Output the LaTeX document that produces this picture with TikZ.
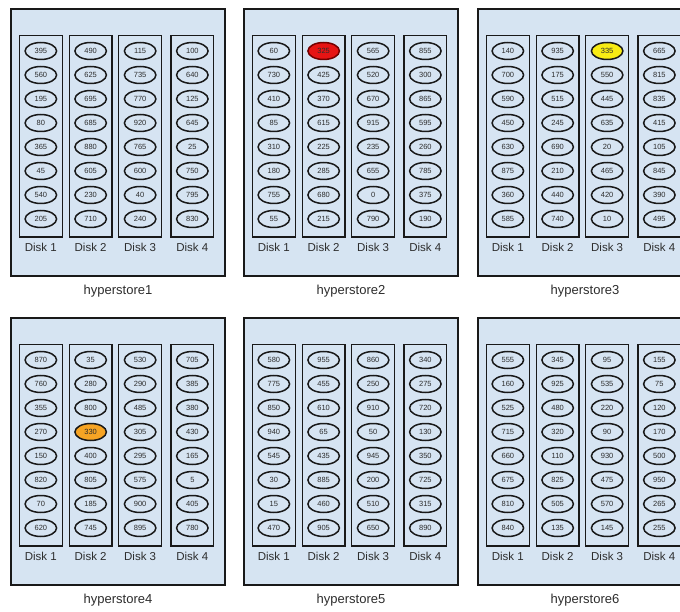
\documentclass[tikz,border=0pt]{standalone}
\usepackage{fontspec}
\setmainfont{Liberation Sans}
\usetikzlibrary{shapes.geometric}
\definecolor{bgblue}{RGB}{214,228,242}
\definecolor{inkc}{RGB}{25,25,25}
\definecolor{txtc}{RGB}{45,45,45}
\definecolor{hotred}{RGB}{230,20,20}
\definecolor{hotyel}{RGB}{248,236,20}
\definecolor{hotora}{RGB}{246,164,36}
\tikzset{
  hbox/.style={draw=inkc, line width=1.6pt, fill=bgblue, minimum width=214pt, minimum height=267pt, inner sep=0pt},
  diskbox/.style={draw=inkc, line width=1.3pt, minimum width=42.7pt, minimum height=201.3pt, inner sep=0pt},
  cell/.style={ellipse, draw=inkc, line width=1.5pt, minimum width=31.5pt, minimum height=17pt, inner sep=0pt, text=txtc, font=\fontsize{7.5}{8}\selectfont},
  dlabel/.style={text=txtc, font=\fontsize{11.5}{13}\selectfont, inner sep=0pt},
  hlabel/.style={text=txtc, font=\fontsize{13}{15}\selectfont, inner sep=0pt},
  hl-2-2-1/.style={fill=hotred, draw=red!45!black},
  hl-3-3-1/.style={fill=hotyel},
  hl-4-2-4/.style={fill=hotora},
}
\newcommand\hdisk[5]{% #1 store, #2 disk, #3 x left, #4 y top, #5 values
  \node[diskbox] (h#1d#2) at (#3+21.35, #4+127.35) {};
  \node[dlabel] (h#1d#2lab) at (#3+21.35, #4+238.6) {Disk #2};
  \foreach \v [count=\i] in {#5} {
    \node[cell, hl-#1-#2-\i/.try] (h#1d#2c\i) at (#3+21.35, #4+18+24*\i) {\v};
  }
}
\newcommand\hstore[7]{% #1 idx, #2 x, #3 y, #4-#7 disk lists
  \node[hbox] (h#1) at (#2+107, #3+133.5) {};
  \node[hlabel] (h#1lab) at (#2+107, #3+282) {hyperstore#1};
  \hdisk{#1}{1}{#2+8.5}{#3}{#4}
  \hdisk{#1}{2}{#2+58.3}{#3}{#5}
  \hdisk{#1}{3}{#2+107.8}{#3}{#6}
  \hdisk{#1}{4}{#2+160}{#3}{#7}
}
\begin{document}
\begin{tikzpicture}[x=1pt, y=-1pt]
\useasboundingbox[fill=white] (0,0) rectangle (680,612);
\clip (0,0) rectangle (680,612);
\hstore{1}{11}{9}
  {395,560,195,80,365,45,540,205}
  {490,625,695,685,880,605,230,710}
  {115,735,770,920,765,600,40,240}
  {100,640,125,645,25,750,795,830}
\hstore{2}{244}{9}
  {60,730,410,85,310,180,755,55}
  {325,425,370,615,225,285,680,215}
  {565,520,670,915,235,655,0,790}
  {855,300,865,595,260,785,375,190}
\hstore{3}{478}{9}
  {140,700,590,450,630,875,360,585}
  {935,175,515,245,690,210,440,740}
  {335,550,445,635,20,465,420,10}
  {665,815,835,415,105,845,390,495}
\hstore{4}{11}{318}
  {870,760,355,270,150,820,70,620}
  {35,280,800,330,400,805,185,745}
  {530,290,485,305,295,575,900,895}
  {705,385,380,430,165,5,405,780}
\hstore{5}{244}{318}
  {580,775,850,940,545,30,15,470}
  {955,455,610,65,435,885,460,905}
  {860,250,910,50,945,200,510,650}
  {340,275,720,130,350,725,315,890}
\hstore{6}{478}{318}
  {555,160,525,715,660,675,810,840}
  {345,925,480,320,110,825,505,135}
  {95,535,220,90,930,475,570,145}
  {155,75,120,170,500,950,265,255}
\end{tikzpicture}
\end{document}
